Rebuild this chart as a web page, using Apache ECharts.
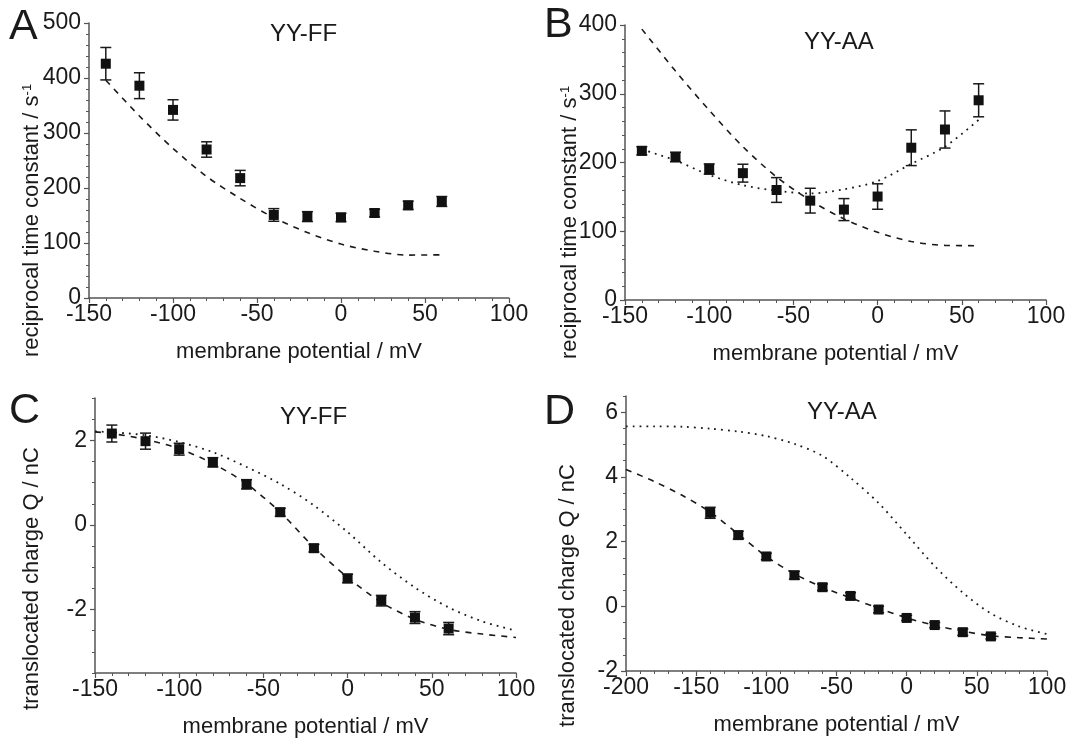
<!DOCTYPE html>
<html>
<head>
<meta charset="utf-8">
<title>Membrane potential dependence</title>
<script src="https://cdn.jsdelivr.net/npm/echarts@6.0.0/dist/echarts.min.js"></script>
<style>
  html, body { margin: 0; padding: 0; background: #fff; }
  #chart { width: 1069px; height: 741px; }
</style>
</head>
<body>
<div id="chart"></div>
<script>
// measured potentials (mV)
var potential = [-140, -120, -100, -80, -60, -40, -20, 0, 20, 40, 60];

// A: reciprocal time constant, YY-FF (s^-1)
var rateFF = [426, 386, 342, 270, 218, 151, 148, 146.5, 154.5, 168.5, 175.5];
var rateFFErr = [29.5, 23.5, 18.5, 14, 14, 11.5, 9, 7.5, 7, 7.5, 9];
var rateFFDash = [396, 331, 272, 221, 181, 146, 119, 98, 85, 78, 78.5];

// B: reciprocal time constant, YY-AA (s^-1)
var rateAA = [217, 208, 190.5, 184.5, 160, 144.5, 131.5, 150.5, 221.5, 248, 290.5];
var rateAAErr = [6, 7, 7.5, 13, 18, 18, 16, 18.5, 26, 27, 24];
var rateAADash = [394, 333, 276, 223, 179, 145, 118, 98.5, 85, 79.5, 79];
var rateAADot = [219, 203, 182, 167, 159, 155, 161, 173, 198, 223, 262];

// C: translocated charge, YY-FF (nC)
var chargeFF = [2.16, 1.98, 1.79, 1.48, 0.96, 0.30, -0.55, -1.265, -1.79, -2.19, -2.45];
var chargeFFErr = [0.2, 0.19, 0.14, 0.11, 0.11, 0.095, 0.09, 0.1, 0.125, 0.14, 0.145];
var fitXC = [-150, -140, -120, -100, -80, -60, -40, -20, 0, 20, 40, 60, 80, 100];
var chargeFFDash = [2.20, 2.16, 2.02, 1.80, 1.45, 0.97, 0.30, -0.53, -1.24, -1.83, -2.23, -2.47, -2.58, -2.66];
var chargeFFDot = [2.21, 2.19, 2.12, 1.96, 1.72, 1.37, 0.97, 0.46, -0.17, -0.885, -1.48, -1.95, -2.28, -2.50];

// D: translocated charge, YY-AA (nC)
var chargeAA = [2.89, 2.20, 1.54, 0.96, 0.59, 0.32, -0.10, -0.36, -0.58, -0.80, -0.93];
var chargeAAErr = [0.17, 0.12, 0.1, 0.12, 0.1, 0.1, 0.1, 0.08, 0.08, 0.1, 0.08];
var fitXD = [-200, -180, -160, -140, -120, -100, -80, -60, -40, -20, 0, 20, 40, 60, 80, 100];
var chargeAADash = [4.23, 3.86, 3.43, 2.91, 2.23, 1.54, 1.00, 0.59, 0.26, -0.06, -0.36, -0.59, -0.77, -0.91, -0.97, -1.01];
var chargeAADot = [5.56, 5.56, 5.55, 5.49, 5.40, 5.26, 5.02, 4.65, 3.97, 3.19, 2.22, 1.24, 0.42, -0.22, -0.62, -0.86];

// tick values for the charge axes
var chargeFFTicks = [-2, 0, 2];
var chargeAATicks = [-2, 0, 2, 4, 6];
var chargeFFMinor = [-3.5, -3, -2.5, -2, -1.5, -1, -0.5, 0, 0.5, 1, 1.5, 2, 2.5, 3];
var chargeAAMinor = [-2, -1.5, -1, -0.5, 0, 0.5, 1, 1.5, 2, 2.5, 3, 3.5, 4, 4.5, 5, 5.5, 6, 6.5];

var FONT = '"Liberation Sans", Arial, sans-serif';
var INK = '#1a1a1a';
var AXIS = '#555';

function pairs(xs, ys) {
    return xs.map(function(x, i) { return [x, ys[i]]; });
}
function bars(xs, ys, es) {
    return xs.map(function(x, i) { return [x, ys[i] - es[i], ys[i] + es[i]]; });
}

function renderErr(params, api) {
    var x = api.value(0);
    var lo = api.coord([x, api.value(1)]);
    var hi = api.coord([x, api.value(2)]);
    var w = 5.5;
    var st = { stroke: INK, lineWidth: 1.5 };
    return {
        type: 'group',
        children: [
            { type: 'line', shape: { x1: lo[0], y1: lo[1], x2: hi[0], y2: hi[1] }, style: st },
            { type: 'line', shape: { x1: lo[0] - w, y1: lo[1], x2: lo[0] + w, y2: lo[1] }, style: st },
            { type: 'line', shape: { x1: hi[0] - w, y1: hi[1], x2: hi[0] + w, y2: hi[1] }, style: st }
        ]
    };
}

function xAxisFor(g, min) {
    return {
        type: 'value', gridIndex: g, min: min, max: 100, interval: 50,
        name: 'membrane potential / mV', nameLocation: 'middle', nameGap: 43,
        nameMoveOverlap: false,
        nameTextStyle: { fontSize: 22, color: INK, fontFamily: FONT },
        axisLine: { onZero: false, lineStyle: { color: AXIS, width: 1.5 } },
        axisTick: { length: 5, lineStyle: { color: AXIS, width: 1.2 } },
        minorTick: { show: true, splitNumber: 5, length: 3, lineStyle: { color: AXIS, width: 1 } },
        axisLabel: { fontSize: 23, color: INK, fontFamily: FONT, margin: 5 },
        splitLine: { show: false }
    };
}

var rateName = 'reciprocal time constant / s{sup|-1}';
var supStyle = { sup: { fontSize: 13, color: INK, fontFamily: FONT, verticalAlign: 'top' } };

function yAxisFor(g, opts) {
    var ax = {
        type: 'value', gridIndex: g, position: 'left', min: opts.min, max: opts.max,
        name: opts.name, nameLocation: 'middle', nameGap: opts.gap,
        nameMoveOverlap: false,
        nameTextStyle: { fontSize: 22, color: INK, fontFamily: FONT, padding: [0, opts.shift * 2, 0, 0], rich: supStyle },
        axisLine: { onZero: false, lineStyle: { color: AXIS, width: 1.5 } },
        axisTick: { length: 5, lineStyle: { color: AXIS, width: 1.2 } },
        axisLabel: { fontSize: 23, color: INK, fontFamily: FONT, margin: 8 },
        splitLine: { show: false }
    };
    if (opts.ticks) {
        ax.axisTick.customValues = opts.ticks;
        ax.axisLabel.customValues = opts.ticks;
    } else {
        ax.interval = opts.interval;
        ax.minorTick = { show: true, splitNumber: 5, length: 3, lineStyle: { color: AXIS, width: 1 } };
    }
    return ax;
}

function minorAxis(g, min, max, vals) {
    return {
        type: 'value', gridIndex: g, position: 'left', offset: 0, min: min, max: max,
        axisLine: { show: false, onZero: false },
        axisTick: { show: true, customValues: vals, length: 3, lineStyle: { color: AXIS, width: 1 } },
        axisLabel: { show: false },
        splitLine: { show: false }
    };
}

function panelSeries(xi, yi, xs, ys, es) {
    return [
        { type: 'custom', xAxisIndex: xi, yAxisIndex: yi, renderItem: renderErr,
          encode: { x: 0, y: [1, 2] }, data: bars(xs, ys, es), z: 4,
          itemStyle: { opacity: 1 } },
        { type: 'scatter', xAxisIndex: xi, yAxisIndex: yi, symbol: 'rect', symbolSize: 10,
          itemStyle: { color: '#111', opacity: 1 }, data: pairs(xs, ys), z: 5 }
    ];
}
function curve(xi, yi, xs, ys, dash) {
    return {
        type: 'line', xAxisIndex: xi, yAxisIndex: yi, data: pairs(xs, ys),
        showSymbol: false, symbol: 'none', smooth: 0.3, z: 3,
        lineStyle: { color: INK, width: dash ? 1.6 : 1.8, type: dash ? [6, 6] : [1.8, 5], cap: 'butt', opacity: 1 }
    };
}

function label(text, left, top, size) {
    return { text: text, left: left, top: top, padding: 0,
             textStyle: { fontSize: size, fontWeight: 'normal', color: INK, fontFamily: FONT } };
}

var chart = echarts.init(document.getElementById('chart'), null, { renderer: 'canvas' });

var option = {
    animation: false,
    backgroundColor: '#fff',
    title: [
        label('A', 9, 6, 43), label('B', 544, 4, 43),
        label('C', 9, 390, 43), label('D', 544, 391, 43),
        label('YY-FF', 270, 22, 24), label('YY-AA', 804, 30, 24),
        label('YY-FF', 280, 405, 24), label('YY-AA', 807, 400, 24)
    ],
    grid: [
        { left: 89, top: 23, width: 420, height: 275, outerBoundsMode: 'none' },
        { left: 625, top: 25, width: 421, height: 275, outerBoundsMode: 'none' },
        { left: 95, top: 398, width: 421, height: 275, outerBoundsMode: 'none' },
        { left: 626, top: 396, width: 421, height: 275, outerBoundsMode: 'none' }
    ],
    xAxis: [xAxisFor(0, -150), xAxisFor(1, -150), xAxisFor(2, -150), xAxisFor(3, -200)],
    yAxis: [
        yAxisFor(0, { min: 0, max: 500, interval: 100, name: rateName, gap: 46, shift: 60 }),
        yAxisFor(1, { min: 0, max: 400, interval: 100, name: rateName, gap: 44, shift: 60 }),
        yAxisFor(2, { min: -3.5, max: 3, ticks: chargeFFTicks, name: 'translocated charge Q / nC', gap: 52, shift: 43 }),
        yAxisFor(3, { min: -2, max: 6.5, ticks: chargeAATicks, name: 'translocated charge Q / nC', gap: 47, shift: 62 }),
        minorAxis(2, -3.5, 3, chargeFFMinor),
        minorAxis(3, -2, 6.5, chargeAAMinor)
    ],
    series: [].concat(
        [curve(0, 0, potential, rateFFDash, true)],
        panelSeries(0, 0, potential, rateFF, rateFFErr),
        [curve(1, 1, potential, rateAADash, true), curve(1, 1, potential, rateAADot, false)],
        panelSeries(1, 1, potential, rateAA, rateAAErr),
        [curve(2, 2, fitXC, chargeFFDash, true), curve(2, 2, fitXC, chargeFFDot, false)],
        panelSeries(2, 2, potential, chargeFF, chargeFFErr),
        [curve(3, 3, fitXD, chargeAADash, true), curve(3, 3, fitXD, chargeAADot, false)],
        panelSeries(3, 3, potential, chargeAA, chargeAAErr)
    )
};

chart.setOption(option);
</script>
</body>
</html>
